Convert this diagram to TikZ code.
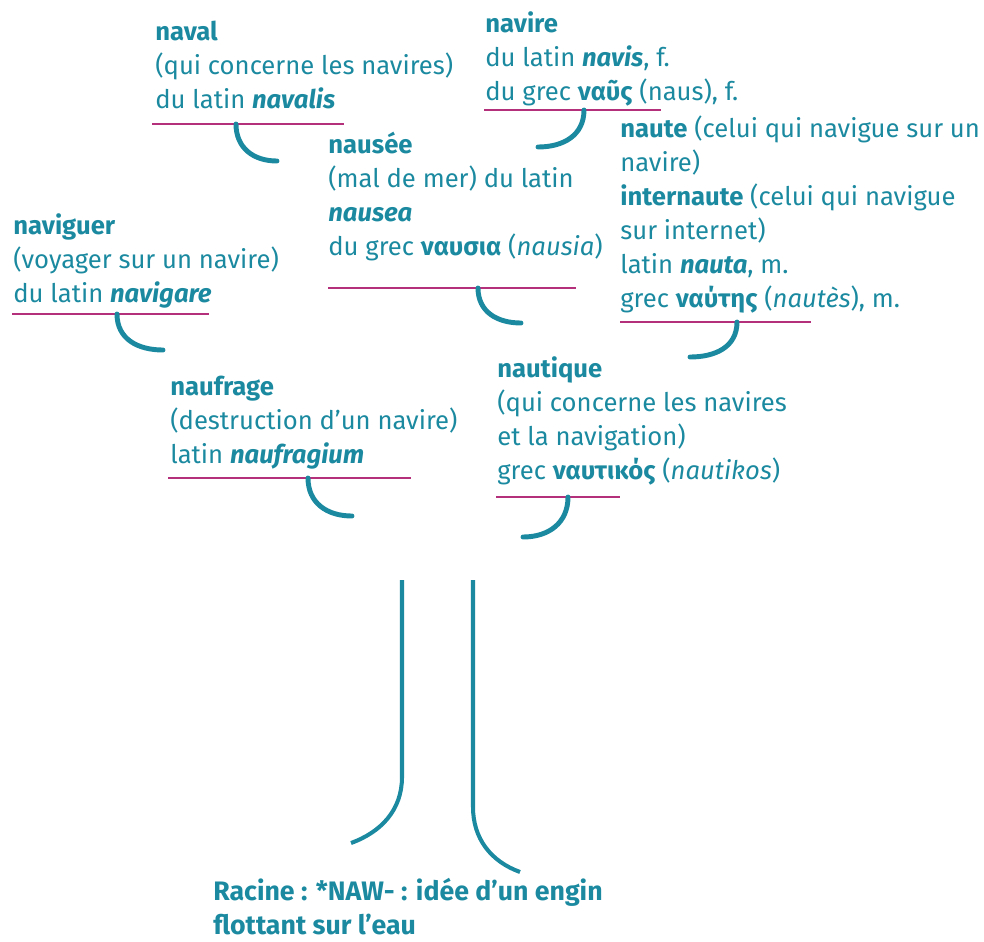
\documentclass[tikz,border=0pt]{standalone}
\usepackage{fontspec}
\setmainfont{Fira Sans}
\usetikzlibrary{positioning}
\definecolor{navteal}{HTML}{1B8AA0}
\definecolor{navpink}{HTML}{B5307A}
\tikzset{
    wordbox/.style={anchor=base west, inner sep=0pt, align=left, text=navteal,
        font=\fontsize{14.6}{19.3}\selectfont},
    underrule/.style={draw=navpink, line width=1.4pt},
    hookline/.style={draw=navteal, line width=2.8pt, line cap=round, looseness=1.1},
    trunkline/.style={draw=navteal, line width=2.3pt}
}
\begin{document}
\begin{tikzpicture}[x=0.02cm, y=-0.02cm]
\useasboundingbox (0,0) rectangle (984,941);

% ===============================================================
% ==== Mots (ancre : ligne de base de la derniere ligne) ====
% ===============================================================
\node[wordbox] (naval) at (155,108) {\textbf{naval}\\(qui concerne les navires)\\du latin \textbf{\textit{navalis}}};
\node[wordbox] (navire) at (485,100) {\textbf{navire}\\du latin \textbf{\textit{navis}}, f.\\du grec \textbf{ναῦς} (naus), f.};
\node[wordbox] (naute) at (620,307) {\textbf{naute} (celui qui navigue sur un\\navire)\\\textbf{internaute} (celui qui navigue\\sur internet)\\latin \textbf{\textit{nauta}}, m.\\grec \textbf{ναύτης} (\textit{nautès}), m.};
\node[wordbox] (nausee) at (328,255) {\textbf{nausée}\\(mal de mer) du latin\\\textbf{\textit{nausea}}\\du grec \textbf{ναυσια} (\textit{nausia})};
\node[wordbox] (naviguer) at (13,302) {\textbf{naviguer}\\(voyager sur un navire)\\du latin \textbf{\textit{navigare}}};
\node[wordbox] (naufrage) at (170,463) {\textbf{naufrage}\\(destruction d’un navire)\\latin \textbf{\textit{naufragium}}};
\node[wordbox] (nautique) at (497,479) {\textbf{nautique}\\(qui concerne les navires\\et la navigation)\\grec \textbf{ναυτικός} (\textit{nautikos})};

% === Racine ===
\node[wordbox, font=\fontsize{15.2}{19.3}\selectfont\bfseries] (racine) at (213,934) {Racine : *NAW- : idée d’un engin\\flottant sur l’eau};

% ===============================================================
% ==== Traits et crochets ====
% ===============================================================
% naval
\draw[underrule] (152,124) -- (344,124);
\coordinate (navalH) at (236,124);
\coordinate (navalE) at (277,161);
\draw[hookline] (navalH) to[out=-90, in=180] (navalE);

% navire
\draw[underrule] (484,110) -- (661,110);
\coordinate (navireH) at (584,110);
\coordinate (navireE) at (538,147);
\draw[hookline] (navireH) to[out=-90, in=0] (navireE);

% naute
\draw[underrule] (620,322) -- (811,322);
\coordinate (nauteH) at (737,322);
\coordinate (nauteE) at (690,357);
\draw[hookline] (nauteH) to[out=-90, in=0] (nauteE);

% nausee
\draw[underrule] (328,288) -- (576,288);
\coordinate (nauseeH) at (478,288);
\coordinate (nauseeE) at (521,323);
\draw[hookline] (nauseeH) to[out=-90, in=180] (nauseeE);

% naviguer
\draw[underrule] (12,314) -- (209,314);
\coordinate (naviguerH) at (117,314);
\coordinate (naviguerE) at (163,350);
\draw[hookline] (naviguerH) to[out=-90, in=180] (naviguerE);

% naufrage
\draw[underrule] (168,478) -- (411,478);
\coordinate (naufrageH) at (308,478);
\coordinate (naufrageE) at (352,516);
\draw[hookline] (naufrageH) to[out=-90, in=180] (naufrageE);

% nautique
\draw[underrule] (496,497) -- (620,497);
\coordinate (nautiqueH) at (568,497);
\coordinate (nautiqueE) at (523,537);
\draw[hookline] (nautiqueH) to[out=-90, in=0] (nautiqueE);

% === Tronc ===
\coordinate (trunkL) at (402,580);
\coordinate (trunkLE) at (351,843);
\coordinate (trunkR) at (473,580);
\coordinate (trunkRE) at (520,872);
\draw[trunkline] (trunkL) -- (402,777) to[out=-90, in=20] (trunkLE);
\draw[trunkline] (trunkR) -- (473,807) to[out=-90, in=160] (trunkRE);

\end{tikzpicture}
\end{document}
